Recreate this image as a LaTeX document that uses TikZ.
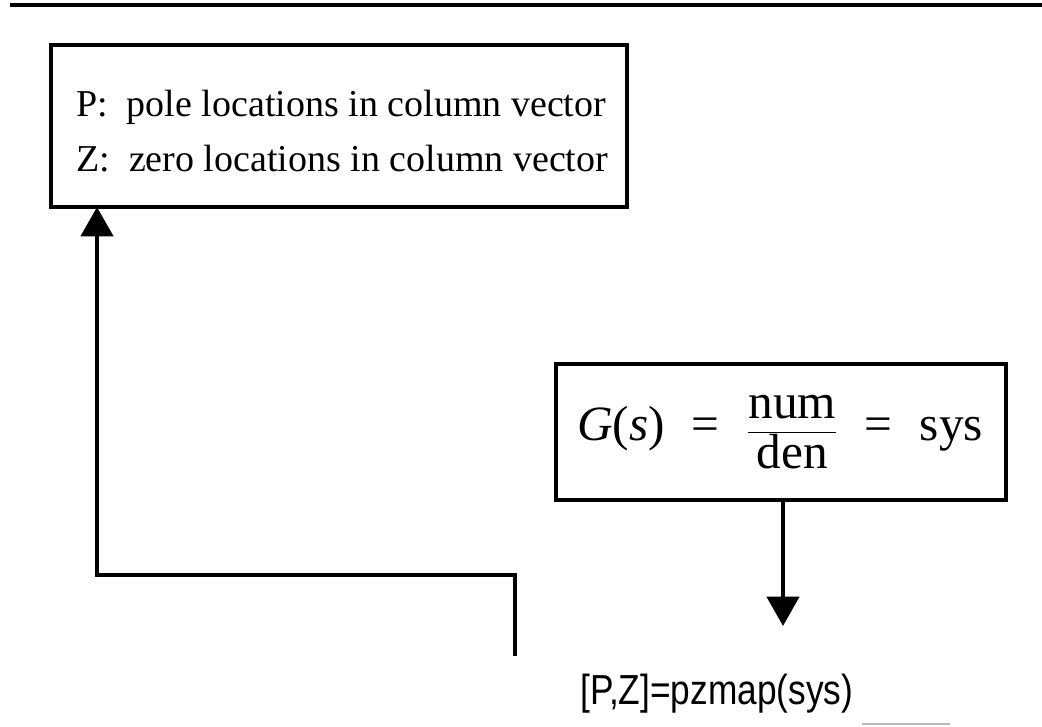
\documentclass[tikz,border=0pt]{standalone}
\usepackage{fontspec}
\usepackage{graphicx}
\setmainfont{Liberation Serif}
\newfontfamily\arialfont{Liberation Sans}
\usetikzlibrary{arrows.meta}
\begin{document}
\begin{tikzpicture}[x=0.75pt,y=-0.75pt,
  boxline/.style={line width=2.3pt},
  conn/.style={line width=3.4pt},
  arr/.style={conn,-{Triangle[width=24pt,length=22pt]}},
  boxtext/.style={font=\fontsize{28.5}{40}\selectfont, inner sep=0pt, anchor=base west},
  cmdtext/.style={font=\arialfont\fontsize{31.5}{34}\selectfont, inner sep=0pt, anchor=base west}]
\useasboundingbox (0,0) rectangle (1042,727);
% top rule
\draw[line width=3.2pt] (10,5) -- (1042,5);
% box 1
\draw[boxline] (51,45) rectangle (627,207);
\coordinate (b1bot) at (97,207);
\node[boxtext] (t1) at (76,117) {P:\ \ pole locations in column vector};
\node[boxtext] (t2) at (76,172) {Z:\ \ zero locations in column vector};
% box 2
\draw[boxline] (556,364) rectangle (1006,500);
\coordinate (b2bot) at (783,500);
\node[font=\fontsize{37}{44}\selectfont, inner sep=0pt] (g) at (780,432)
  {\textit{G}(\textit{s})\hspace{0.55em}=\hspace{0.55em}$\displaystyle\frac{\mbox{num}}{\mbox{den}}$\hspace{0.55em}=\hspace{0.55em}sys};
% command
\node[cmdtext] (cmd) at (580,704) {\scalebox{0.84}[1]{[P,Z]=pzmap(sys)}};
\coordinate (down) at (783,626);
\coordinate (c1) at (515,656);
\coordinate (c2) at (515,575);
\coordinate (c3) at (97,575);
\draw[arr] (b2bot) -- (down);
\draw[arr, line join=miter] (c1) -- (c2) -- (c3) -- (b1bot);
% faint scan line
\draw[gray!55, line width=1.5pt] (862,724) -- (950,724);
\end{tikzpicture}
\end{document}
